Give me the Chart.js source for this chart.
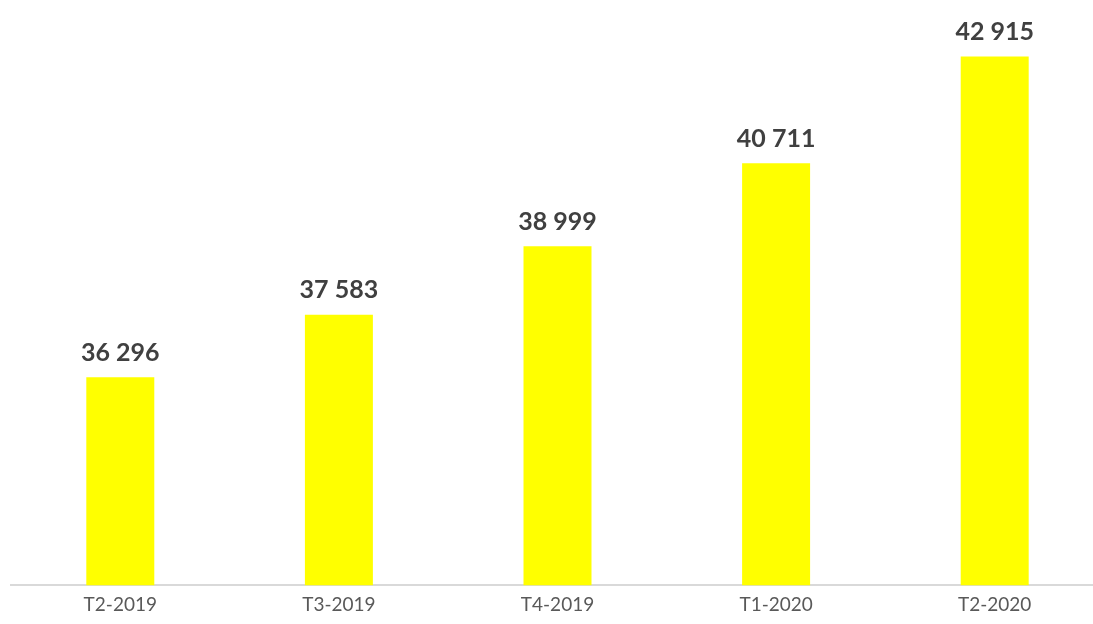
<!DOCTYPE html>
<html>
<head>
<meta charset="utf-8">
<script src="https://cdn.jsdelivr.net/npm/chart.js@4"></script>
<style>
  html, body { margin: 0; padding: 0; background: #ffffff; overflow: hidden; width: 1093px; height: 624px; }
  #wrap { position: absolute; left: 0; top: 0; width: 1104px; height: 624px; }
</style>
</head>
<body>
<div id="wrap"><canvas id="c" width="1104" height="624"></canvas></div>
<script>
const categories = ["T2-2019", "T3-2019", "T4-2019", "T1-2020", "T2-2020"];
const values = [36296, 37583, 38999, 40711, 42915];

function fmt(v) {
  return String(v).replace(/\B(?=(\d{3})+(?!\d))/g, " ");
}

const valueLabels = {
  id: "valueLabels",
  afterDatasetsDraw(chart) {
    const ctx = chart.ctx;
    const meta = chart.getDatasetMeta(0);
    ctx.save();
    ctx.font = "bold 25px Lato";
    ctx.fillStyle = "#404040";
    ctx.textAlign = "center";
    ctx.textBaseline = "bottom";
    meta.data.forEach((bar, i) => {
      ctx.fillText(fmt(chart.data.datasets[0].data[i]), bar.x, bar.y - 12);
    });
    ctx.restore();
  }
};

new Chart(document.getElementById("c"), {
  type: "bar",
  data: {
    labels: categories,
    datasets: [{
      data: values,
      backgroundColor: "#FFFF00",
      borderWidth: 0,
      barPercentage: 1,
      categoryPercentage: 0.311
    }]
  },
  options: {
    responsive: false,
    animation: false,
    layout: { padding: { left: 11, right: 0, top: 4, bottom: 0 } },
    plugins: { legend: { display: false }, tooltip: { enabled: false } },
    scales: {
      y: { display: false, min: 32000, max: 44000 },
      x: {
        grid: { display: false, drawTicks: false },
        border: { color: "#d9d9d9", width: 2 },
        ticks: { color: "#595959", font: { family: "Lato", size: 19 }, padding: 8 }
      }
    }
  },
  plugins: [valueLabels]
});
</script>
</body>
</html>
